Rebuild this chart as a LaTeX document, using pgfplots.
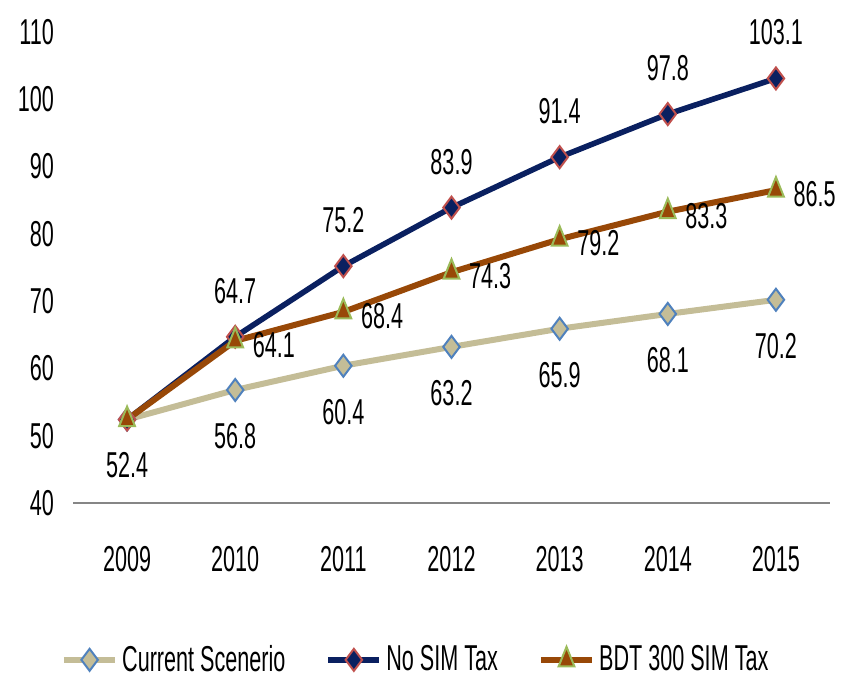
\documentclass[border=0pt]{standalone}
\usepackage{fontspec}
\setmainfont[FakeStretch=0.6]{Liberation Sans}
\usepackage{pgfplots}
\pgfplotsset{compat=1.18}
\definecolor{tanline}{HTML}{C4BD97}
\definecolor{tanblue}{HTML}{4F81BD}
\definecolor{navy}{HTML}{0A2060}
\definecolor{navyred}{HTML}{C0504D}
\definecolor{brownline}{HTML}{984807}
\definecolor{browngreen}{HTML}{9BBB59}
\definecolor{axgray}{HTML}{868686}

\begin{document}
\begin{tikzpicture}[font=\fontsize{18pt}{21pt}\selectfont]
\path[use as bounding box] (-36.5pt,-87.5pt) rectangle (388pt,251.5pt);
\begin{axis}[scale only axis,width=378.5pt,height=235.5pt,
    at={(0,0)},anchor=south west,
    xmin=-0.5,xmax=6.5,ymin=40,ymax=110,
    xtick={0,...,6},
    xticklabels={2009,2010,2011,2012,2013,2014,2015},
    ytick={40,50,...,110},
    /pgf/number format/assume math mode=true,
    axis lines*=left,
    y axis line style={draw=none},
    x axis line style={axgray,line width=1pt},
    tick style={draw=none},
    xticklabel style={yshift=-18pt},
    yticklabel style={xshift=-6pt},
    clip=false,
    point meta=explicit symbolic,
    legend columns=3,
    legend style={at={(0.454,-0.333)},anchor=center,draw=none,fill=none,
      font=\fontsize{18pt}{21pt}\selectfont,
      /tikz/every even column/.append style={column sep=18pt}},
    legend image code/.code={\draw[mark repeat=2,mark phase=2]
      plot coordinates {(0cm,0cm)(0.45cm,0cm)(0.9cm,0cm)};},
  ]
  % current scenario
  \addplot[tanline,line width=3pt,mark=diamond*,mark size=5.5pt,
    mark options={fill=tanline,draw=tanblue,line width=1pt},
    nodes near coords,nodes near coords style={black,anchor=center,yshift=-23pt}]
    coordinates {(0,52.4)[52.4] (1,56.8)[56.8] (2,60.4)[60.4] (3,63.2)[63.2]
                 (4,65.9)[65.9] (5,68.1)[68.1] (6,70.2)[70.2]};
  \addlegendentry{Current Scenerio}
  % no SIM tax
  \addplot[navy,line width=2.8pt,mark=diamond*,mark size=5.5pt,
    mark options={fill=navy,draw=navyred,line width=1pt},
    nodes near coords,nodes near coords style={black,anchor=center,yshift=23pt}]
    coordinates {(0,52.4)[] (1,64.7)[64.7] (2,75.2)[75.2] (3,83.9)[83.9]
                 (4,91.4)[91.4] (5,97.8)[97.8] (6,103.1)[103.1]};
  \addlegendentry{No SIM Tax}
  % BDT 300 SIM tax
  \addplot[brownline,line width=3pt,mark=triangle*,mark size=6.5pt,
    mark options={fill=brownline,draw=browngreen,line width=1pt,xscale=0.7},
    nodes near coords,nodes near coords style={black,anchor=west,xshift=5pt,yshift=-2pt}]
    coordinates {(0,52.4)[] (1,64.1)[64.1] (2,68.4)[68.4] (3,74.3)[74.3]
                 (4,79.2)[79.2] (5,83.3)[83.3] (6,86.5)[86.5]};
  \addlegendentry{BDT 300 SIM Tax}
\end{axis}
\end{tikzpicture}
\end{document}
